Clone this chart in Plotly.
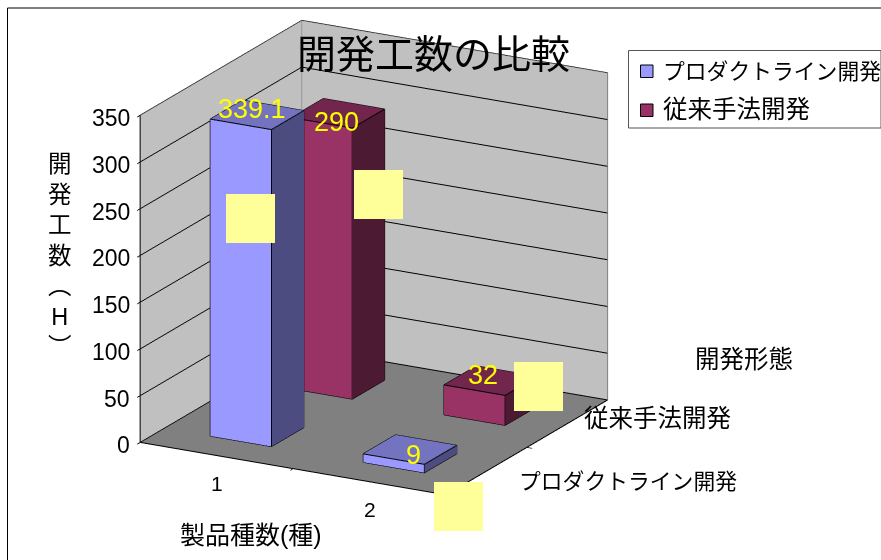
import plotly.graph_objects as go

# Chart content
title = "開発工数の比較"
categories = ["1", "2"]
series_names = ["プロダクトライン開発", "従来手法開発"]
productline_hours = [339.1, 9]
conventional_hours = [290, 32]
value_ticks = [0, 50, 100, 150, 200, 250, 300, 350]
value_title = "開<br>発<br>工<br>数<br>︵<br>H<br>︶"
category_title = "製品種数(種)"
series_title = "開発形態"

# Face colours per series: front, side, top
productline_faces = ["#9999FF", "#4C4C80", "#7373BF"]
conventional_faces = ["#993366", "#4D1A33", "#73264D"]

# Pixel nudges for the value labels, per series then per category
productline_nudges = [(-5, 6), (4, -5)]
conventional_nudges = [(-1, -9), (-8, 6)]

W, H = 881, 560
FONT = "Liberation Sans, Noto Sans CJK JP, sans-serif"
HALF_W, HALF_D = 0.2, 0.2
X_MAX, Y_MAX, Z_MAX = 2, 2, value_ticks[-1]


def box(xc, yc, top):
    """Corner coordinates of a bar standing on the floor."""
    xs = [xc - HALF_W, xc + HALF_W, xc + HALF_W, xc - HALF_W] * 2
    ys = [yc - HALF_D, yc - HALF_D, yc + HALF_D, yc + HALF_D] * 2
    zs = [0] * 4 + [top] * 4
    return xs, ys, zs


def add_bar(fig, xc, yc, top, faces):
    xs, ys, zs = box(xc, yc, top)
    i = [0, 0, 1, 1, 4, 4, 3, 3, 0, 0, 2, 2]
    j = [1, 5, 2, 6, 5, 6, 0, 4, 1, 2, 3, 7]
    k = [5, 4, 6, 5, 6, 7, 4, 7, 2, 3, 7, 6]
    colours = [faces[0]] * 2 + [faces[1]] * 2 + [faces[2]] * 2 + [faces[1]] * 2 + [faces[1]] * 2 + [faces[0]] * 2
    fig.add_trace(go.Mesh3d(x=xs, y=ys, z=zs, i=i, j=j, k=k, facecolor=colours, flatshading=True,
                            lighting=dict(ambient=1, diffuse=0, specular=0, fresnel=0, roughness=1),
                            hoverinfo="skip", showlegend=False))
    edges = [(0, 1), (1, 2), (4, 5), (5, 6), (6, 7), (7, 4), (0, 4), (1, 5), (2, 6)]
    ex, ey, ez = [], [], []
    for a, b in edges:
        ex += [xs[a], xs[b], None]
        ey += [ys[a], ys[b], None]
        ez += [zs[a], zs[b], None]
    fig.add_trace(go.Scatter3d(x=ex, y=ey, z=ez, mode="lines", line=dict(color="black", width=2),
                               hoverinfo="skip", showlegend=False))


def add_outline(fig, corners, colour):
    """Polyline along the edges of the plot box."""
    fig.add_trace(go.Scatter3d(x=[c[0] for c in corners], y=[c[1] for c in corners], z=[c[2] for c in corners],
                               mode="lines", line=dict(color=colour, width=2), hoverinfo="skip", showlegend=False))


def px_x(v):
    return v / W


def px_y(v):
    return 1 - v / H


fig = go.Figure()

# Wall rims in grey, axis edges in black
add_outline(fig, [(0, 0, Z_MAX), (0, Y_MAX, Z_MAX), (X_MAX, Y_MAX, Z_MAX), (X_MAX, Y_MAX, 0)], "#808080")
add_outline(fig, [(0, Y_MAX, 0), (0, Y_MAX, Z_MAX)], "#808080")
add_outline(fig, [(0, 0, Z_MAX), (0, 0, 0), (X_MAX, 0, 0), (X_MAX, Y_MAX, 0)], "black")

rows = [(0.5, productline_hours, productline_faces, productline_nudges),
        (1.5, conventional_hours, conventional_faces, conventional_nudges)]
annotations3d = []
for yc, hours, faces, nudges in rows:
    for n, value in enumerate(hours):
        add_bar(fig, n + 0.5, yc, value, faces)
        annotations3d.append(dict(x=n + 0.5, y=yc, z=value, text=str(value), showarrow=False,
                                  xshift=nudges[n][0], yshift=nudges[n][1],
                                  font=dict(size=27, color="#FFFF00", family=FONT)))

for v in value_ticks:
    annotations3d.append(dict(x=0, y=0, z=v, text=str(v), showarrow=False, xanchor="right", xshift=-8, yshift=-3,
                              font=dict(size=23, color="black", family=FONT)))
for n, c in enumerate(categories):
    annotations3d.append(dict(x=n + 0.5, y=0, z=0, text=c, showarrow=False, yshift=-28,
                              font=dict(size=21, color="black", family=FONT)))
for n, (s, size, dx, dy) in enumerate([(series_names[0], 21.8, 31, -10), (series_names[1], 24.5, 15, 5)]):
    annotations3d.append(dict(x=X_MAX, y=n + 0.5, z=0, text=s, showarrow=False, xanchor="left", xshift=dx, yshift=dy,
                              font=dict(size=size, color="black", family=FONT)))

# Outer chart border and the pale yellow label patches
shapes = [dict(type="line", xref="paper", yref="paper", x0=px_x(7.5), x1=1, y0=px_y(8), y1=px_y(8),
               line=dict(color="black", width=1)),
          dict(type="line", xref="paper", yref="paper", x0=px_x(7.5), x1=px_x(7.5), y0=px_y(8), y1=0,
               line=dict(color="black", width=1))]
for left, top in [(226, 194), (354, 170), (514, 362), (434, 482)]:
    shapes.append(dict(type="rect", xref="paper", yref="paper", x0=px_x(left), x1=px_x(left + 49),
                       y0=px_y(top), y1=px_y(top + 49), fillcolor="#FFFF99", line_width=0, layer="above"))


def paper_text(text, cx, cy, size, anchor="center"):
    return dict(text=text, xref="paper", yref="paper", x=px_x(cx), y=px_y(cy), showarrow=False,
                xanchor=anchor, yanchor="middle", font=dict(size=size, color="black", family=FONT))


# Legend box with one swatch per series
shapes.append(dict(type="rect", xref="paper", yref="paper", x0=px_x(628.5), x1=px_x(881), y0=px_y(50.5),
                   y1=px_y(128), fillcolor="white", line=dict(color="#555555", width=1), layer="above"))
legend_rows = [(71, productline_faces[0], series_names[0], 21.8), (110, conventional_faces[0], series_names[1], 24.5)]
legend_text = []
for cy, colour, name, size in legend_rows:
    shapes.append(dict(type="rect", xref="paper", yref="paper", x0=px_x(640.5), x1=px_x(653), y0=px_y(cy - 6),
                       y1=px_y(cy + 6.5), fillcolor=colour, line=dict(color="black", width=1), layer="above"))
    legend_text.append(paper_text(name, 661, cy, size, "left"))

axis_common = dict(showticklabels=False, showspikes=False, title="", zeroline=False, showline=False,
                   ticks="outside", tickcolor="black", ticklen=6, tickwidth=2)
fig.update_layout(
    width=W, height=H, margin=dict(l=0, r=0, t=0, b=0, autoexpand=False), paper_bgcolor="white",
    font=dict(family=FONT),
    showlegend=False,
    shapes=shapes,
    annotations=[paper_text(title, 433, 55, 39), paper_text(value_title, 60, 256, 23.5),
                 paper_text(category_title, 251, 535, 25), paper_text(series_title, 744, 359, 24.5)] + legend_text,
    scene=dict(
        domain=dict(x=[0, 1], y=[0, 1]),
        xaxis=dict(range=[0, X_MAX], tickvals=[1], showgrid=False, showbackground=True, backgroundcolor="#C0C0C0",
                   **axis_common),
        yaxis=dict(range=[0, Y_MAX], tickvals=[1], showgrid=False, showbackground=True, backgroundcolor="#C0C0C0",
                   **axis_common),
        zaxis=dict(range=[0, Z_MAX], tickvals=value_ticks, showgrid=True, gridcolor="black", gridwidth=2,
                   showbackground=True, backgroundcolor="#808080", **axis_common),
        aspectmode="manual", aspectratio=dict(x=1.2416, y=1.2140, z=1.232),
        camera=dict(eye=dict(x=1.3116, y=-1.9268, z=0.6916), center=dict(x=0.2213, y=0.0908, z=-0.0758),
                    up=dict(x=0, y=0, z=1), projection=dict(type="orthographic")),
        annotations=annotations3d,
    ),
)
fig.write_html("out.html", config=dict(displayModeBar=False))
